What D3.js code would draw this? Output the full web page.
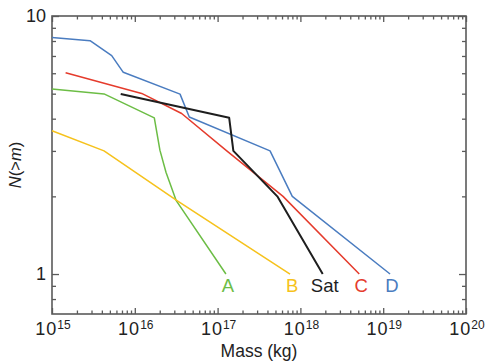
<!DOCTYPE html>
<html>
<head>
<meta charset="utf-8">
<script src="https://cdn.jsdelivr.net/npm/d3@7"></script>
<style>
  body { margin: 0; background: #fff; }
  text { font-family: "Liberation Sans", Arial, sans-serif; }
</style>
</head>
<body>
<script>
// values (mass in kg, cumulative number N(>m))
var massA = [1e15, 4.25e15, 1.72e16, 2.01e16, 2.38e16, 3.15e16, 1.26e17];
var countA = [5.21, 4.99, 4.03, 3.02, 2.48, 1.93, 1];
var massB = [1e15, 4.25e15, 3.2e16, 7.5e17];
var countB = [3.59, 3.0, 1.93, 1];
var massC = [1.46e15, 1.21e16, 3.68e16, 1.29e17, 6.17e17, 5.14e18];
var countC = [6.03, 5.01, 4.19, 3.0, 2.0, 1];
var massD = [1e15, 2.88e15, 5.26e15, 7.26e15, 3.52e16, 4.55e16, 4.3e17, 7.98e17, 1.21e19];
var countD = [8.26, 8.02, 7.02, 6.05, 4.98, 4.06, 3.0, 2.0, 1];
var massSat = [6.76e15, 1.38e17, 1.55e17, 5.26e17, 1.86e18];
var countSat = [4.99, 4.03, 3.0, 2.0, 1];

var seriesNames = ['A', 'B', 'Sat', 'C', 'D'];
var xTickExponents = [15, 16, 17, 18, 19, 20];
var yTickLabels = [1, 10];

var series = [
  { name: 'A', mass: massA, n: countA, color: '#6cbd45', w: 1.5 },
  { name: 'B', mass: massB, n: countB, color: '#f6c21c', w: 1.5 },
  { name: 'C', mass: massC, n: countC, color: '#e53b2c', w: 1.5 },
  { name: 'D', mass: massD, n: countD, color: '#4a7cc0', w: 1.5 },
  { name: 'Sat', mass: massSat, n: countSat, color: '#1e1e1e', w: 2 }
];

var margin = { top: 16, right: 19, bottom: 49, left: 52 };
var width = 485 - margin.left - margin.right;
var height = 363 - margin.top - margin.bottom;

var x = d3.scaleLog().domain([1e15, 1e20]).range([0, width]);
var y = d3.scaleLog().domain([0.7, 10]).range([height, 0]);

var svg = d3.select('body').append('svg')
    .attr('width', 485)
    .attr('height', 363)
  .append('g')
    .attr('transform', 'translate(' + margin.left + ',' + margin.top + ')');

// minor / major tick values
var xMajor = xTickExponents.map(function(e) { return Math.pow(10, e); });
var xMinor = [];
for (var e = 15; e < 20; e++) {
  for (var k = 2; k <= 9; k++) xMinor.push(k * Math.pow(10, e));
}
var yMajor = [1, 10];
var yMinor = [0.8, 0.9, 2, 3, 4, 5, 6, 7, 8, 9];

var axisColor = '#5a5a5a';

function styleAxis(g) {
  g.select('.domain').remove();
  g.selectAll('line').attr('stroke', axisColor).attr('stroke-width', 1.3);
}

svg.append('g').attr('transform', 'translate(0,' + height + ')')
  .call(d3.axisBottom(x).tickValues(xMinor).tickSize(-3.5).tickFormat('')).call(styleAxis);
svg.append('g').attr('transform', 'translate(0,' + height + ')')
  .call(d3.axisBottom(x).tickValues(xMajor).tickSize(-6).tickFormat('')).call(styleAxis);
svg.append('g')
  .call(d3.axisTop(x).tickValues(xMinor).tickSize(-3.5).tickFormat('')).call(styleAxis);
svg.append('g')
  .call(d3.axisTop(x).tickValues(xMajor).tickSize(-6).tickFormat('')).call(styleAxis);
svg.append('g')
  .call(d3.axisLeft(y).tickValues(yMinor).tickSize(-4).tickFormat('')).call(styleAxis);
svg.append('g')
  .call(d3.axisLeft(y).tickValues(yMajor).tickSize(-7).tickFormat('')).call(styleAxis);
svg.append('g').attr('transform', 'translate(' + width + ',0)')
  .call(d3.axisRight(y).tickValues(yMinor).tickSize(-4).tickFormat('')).call(styleAxis);
svg.append('g').attr('transform', 'translate(' + width + ',0)')
  .call(d3.axisRight(y).tickValues(yMajor).tickSize(-7).tickFormat('')).call(styleAxis);

// frame
svg.append('rect')
    .attr('width', width)
    .attr('height', height)
    .attr('fill', 'none')
    .attr('stroke', axisColor)
    .attr('stroke-width', 1.6);

// x tick labels with superscripts
var xl = svg.selectAll('.xlab')
    .data(xTickExponents)
  .enter().append('text')
    .attr('class', 'xlab')
    .attr('x', function(d) { return x(Math.pow(10, d)) + 1; })
    .attr('y', height + 21)
    .attr('text-anchor', 'middle')
    .attr('fill', '#222')
    .style('font-size', '18px');
xl.append('tspan').attr('letter-spacing', '1px').text('10');
xl.append('tspan')
    .attr('dy', -6)
    .style('font-size', '12px')
    .text(function(d) { return d; });

svg.selectAll('.ylab')
    .data(yTickLabels)
  .enter().append('text')
    .attr('class', 'ylab')
    .attr('x', -6)
    .attr('y', function(d) { return y(d); })
    .attr('dy', '0.35em')
    .attr('text-anchor', 'end')
    .attr('fill', '#222')
    .style('font-size', '18px')
    .text(function(d) { return d; });

// axis titles
svg.append('text')
    .attr('x', width / 2)
    .attr('y', height + 43)
    .attr('text-anchor', 'middle')
    .attr('fill', '#222')
    .style('font-size', '17.5px')
    .text('Mass (kg)');

var yt = svg.append('text')
    .attr('transform', 'translate(-31,' + (height / 2) + ') rotate(-90)')
    .attr('text-anchor', 'middle')
    .attr('fill', '#222')
    .style('font-size', '16.5px');
yt.append('tspan').style('font-style', 'italic').text('N');
yt.append('tspan').text('(>');
yt.append('tspan').style('font-style', 'italic').text('m');
yt.append('tspan').text(')');

// lines
var line = d3.line()
    .x(function(d) { return x(d[0]); })
    .y(function(d) { return y(d[1]); });

series.forEach(function(s) {
  var pts = s.mass.map(function(m, i) { return [m, s.n[i]]; });
  svg.append('path')
      .datum(pts)
      .attr('fill', 'none')
      .attr('stroke', s.color)
      .attr('stroke-width', s.w)
      .attr('stroke-linejoin', 'round')
      .attr('d', line);
});

// end labels
svg.selectAll('.slab')
    .data(seriesNames.map(function(n) { return series.find(function(s) { return s.name === n; }); }))
  .enter().append('text')
    .attr('class', 'slab')
    .attr('x', function(s) { return x(s.mass[s.mass.length - 1]) + 2; })
    .attr('y', function(s) { return y(s.n[s.n.length - 1]) + 18; })
    .attr('text-anchor', 'middle')
    .attr('fill', function(s) { return s.color; })
    .style('font-size', '18.5px')
    .text(function(s) { return s.name; });
</script>
</body>
</html>
